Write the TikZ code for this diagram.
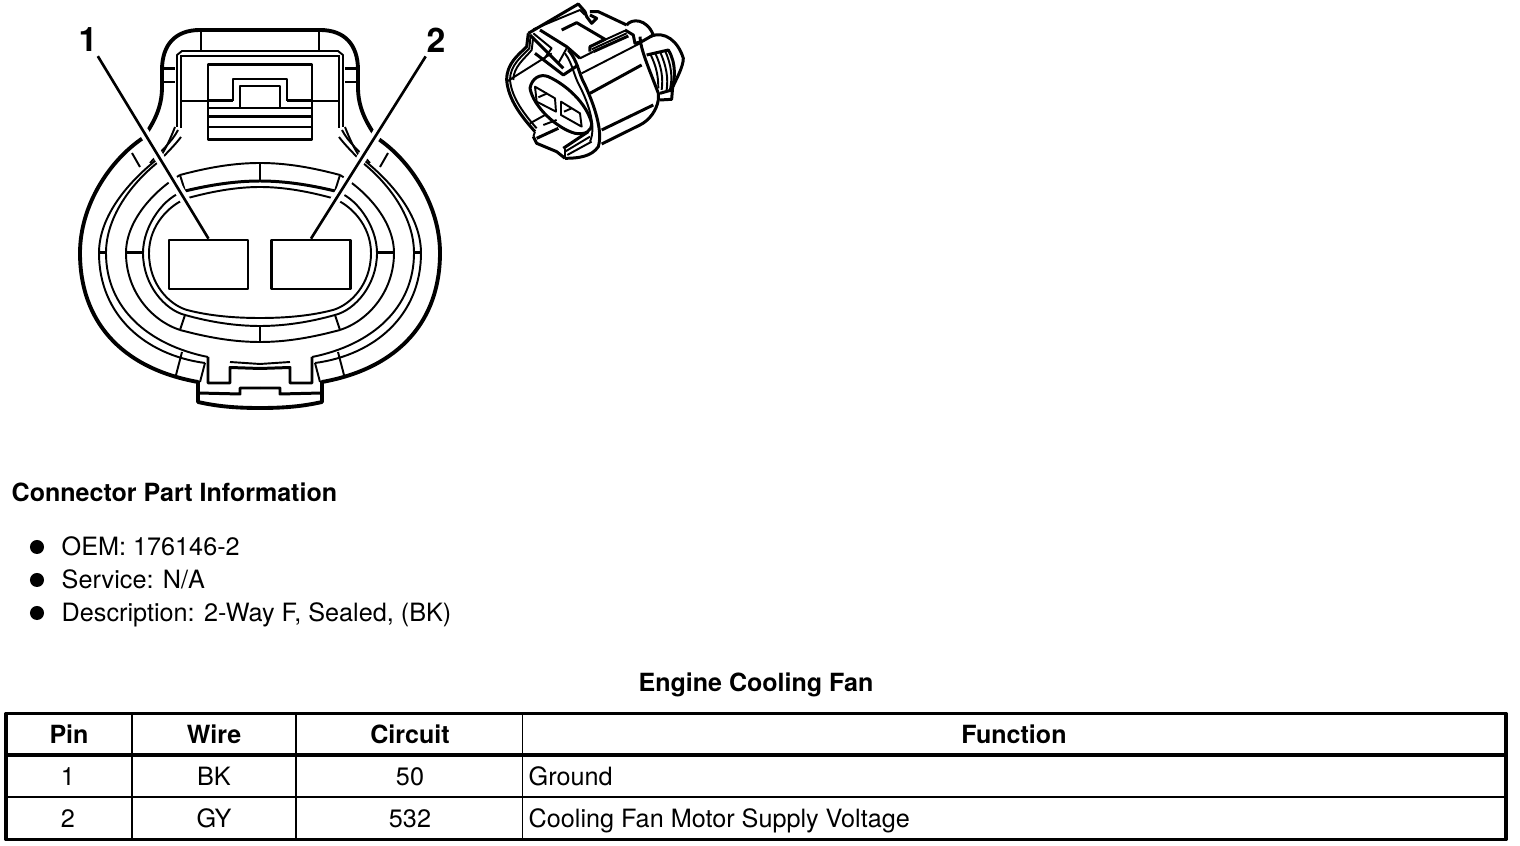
\documentclass[tikz,border=0pt]{standalone}
\usepackage{fontspec}
\setmainfont{TeX Gyre Heros}
\usetikzlibrary{positioning}
\tikzset{
  every picture/.style={line cap=butt, line join=round},
  shell/.style={line width=1.1pt, draw=black},
  heavy/.style={line width=0.85pt, draw=black},
  fine/.style={line width=0.55pt, draw=black},
  sketch/.style={line width=0.55pt, draw=black},
  sketchheavy/.style={line width=0.85pt, draw=black},
  leader/.style={line width=0.75pt, draw=black, preaction={draw=white, line width=2.8pt, shorten >=2pt}},
  pinbox/.style={draw=black, line width=0.75pt, minimum width=0.79cm, minimum height=0.49cm, inner sep=0pt},
  pinnum/.style={font=\fontsize{9.6}{11}\selectfont\bfseries, inner sep=1pt},
  heading/.style={font=\fontsize{7.12}{9}\selectfont\bfseries, inner sep=0pt, anchor=base},
  body/.style={font=\fontsize{7.17}{9}\selectfont, inner sep=0pt, anchor=base},
  bodyleft/.style={body, anchor=base west},
  dot/.style={circle, fill=black, minimum size=0.14cm, inner sep=0pt},
  rule/.style={line width=0.55pt, draw=black},
  frame/.style={line width=0.95pt, draw=black}
}
\begin{document}
\begin{tikzpicture}[x=0.01cm, y=-0.01cm]
  \useasboundingbox (0,0) rectangle (1520,846);

  % Front view, both halves mirrored about the centre line
  \foreach \s in {1,-1} {
    \begin{scope}[shift={(260,0)}, xscale=\s]
      % Outer shell
      \draw[shell] (0,30) -- (-60,30) .. controls (-85,30) and (-98,45) .. (-98,70) -- (-98,87) .. controls (-98,105) and (-104,120) .. (-117,138) .. controls (-150,160) and (-180,205) .. (-180,253) .. controls (-180,320) and (-140,368) .. (-62,382) -- (-62,402) .. controls (-40,407) and (-20,408) .. (0,408);
      \draw[heavy] (-62,393) -- (-20,394) -- (-20,388) -- (0,388);
      % Top ticks and stubs
      \draw[heavy] (-59,30) -- (-59,50);
      \draw[fine] (-97,82) -- (-85,82);
      \draw[heavy] (-97,69) -- (-85,69);
      % Latch post
      \draw[fine] (0,51) -- (-78,51) -- (-83,55) -- (-83,127);
      \draw[fine] (0,56) -- (-79,56);
      \draw[heavy] (-79,55) -- (-79,128);
      \draw[fine] (-79,100.7) -- (-52,100.7);
      % Rings
      \draw[fine] (-85,127) .. controls (-90,140) and (-95,150) .. (-100,157) .. controls (-130,180) and (-161,215) .. (-161,253) .. controls (-161,315) and (-115,355) .. (-55,363);
      \draw[fine] (-79,137) .. controls (-85,145) and (-95,155) .. (-103,163) .. controls (-130,185) and (-154,218) .. (-154,253) .. controls (-154,308) and (-112,345) .. (-52,357);
      \draw[fine] (-82,130) .. controls (-88,142) and (-100,152) .. (-110,163);
      \draw[fine] (-128,153) -- (-120,167);
      \draw[heavy] (-161,253) -- (-154,253);
      \draw[heavy] (-134,253) -- (-117,253);
      % Segment ring and inner oval
      \draw[fine] (-80,175) .. controls (-105,190) and (-134,220) .. (-134,253) .. controls (-134,290) and (-110,320) .. (-80,330);
      \draw[fine] (-80,175) .. controls (-50,167) and (-25,163) .. (0,163);
      \draw[fine] (-80,175) -- (-75,191);
      \draw[heavy] (-75,191) .. controls (-50,185) and (-25,181) .. (0,181);
      \draw[fine] (0,163) -- (0,181);
      \draw[fine] (-75,191) .. controls (-95,196) and (-117,225) .. (-117,253) .. controls (-117,285) and (-95,310) .. (-75,315) .. controls (-50,322) and (-25,326) .. (0,326);
      \draw[fine] (0,187) .. controls (-25,187) and (-50,192) .. (-72,198) .. controls (-90,204) and (-111,225) .. (-111,253) .. controls (-111,285) and (-90,305) .. (-73,310) .. controls (-50,316) and (-25,318) .. (0,318);
      \draw[fine] (-80,330) .. controls (-50,338) and (-25,342) .. (0,342);
      \draw[fine] (-80,330) -- (-75,315);
      \draw[fine] (0,326) -- (0,342);
      % Lower lock tab
      \draw[heavy] (-52,357) -- (-52,383) -- (-30,383) -- (-30,367.5) -- (0,368.5);
      \draw[fine] (-30,362) -- (0,364);
      \draw[fine] (-55,363) -- (-60,382);
      \draw[fine] (-78,352) -- (-84,375);
    \end{scope}
  }

  % Latch window
  \draw[heavy] (208,65) rectangle (312,140);
  \draw[fine] (233,100.7) -- (233,79) -- (287,79) -- (287,100.7);
  \draw[fine] (240,108) -- (240,86) -- (280,86) -- (280,108);
  \draw[heavy] (208,100.7) -- (233,100.7) (287,100.7) -- (312,100.7);
  \draw[fine] (208,108) -- (312,108);
  \draw[heavy] (208,117) -- (312,117);
  \draw[fine] (208,127) -- (312,127);

  % Pins and their numbers
  \node[pinbox] (pin1) at (208.5,264.5) {};
  \node[pinbox] (pin2) at (311,264.5) {};
  \node[pinnum] (num1) at (88,40) {1};
  \node[pinnum] (num2) at (436,40) {2};
  \draw[leader] (num1) -- (pin1.north);
  \draw[leader] (num2) -- (pin2.north);

  % Small view of the connector
  \begin{scope}[shift={(490,0)}, scale=0.3333]
    % Left rim
    \draw[sketchheavy] (115,100) -- (110,140) .. controls (85,165) and (50,190) .. (50,240) .. controls (55,300) and (95,350) .. (135,395);
    \draw[sketch] (122,105) -- (118,145) .. controls (95,170) and (60,195) .. (60,240) .. controls (65,295) and (105,345) .. (140,385);
    \draw[sketch] (130,110) -- (125,150) .. controls (105,175) and (70,200) .. (70,240);
    % Top band and notch
    \draw[sketchheavy] (115,100) -- (265,12) -- (285,35) -- (290,50) -- (305,70) -- (320,55) -- (300,45);
    \draw[sketch] (130,88) -- (270,30) -- (285,45);
    \draw[sketchheavy] (300,35) -- (325,35) -- (410,75);
    % Clip on top
    \draw[sketchheavy] (215,90) -- (260,68) -- (345,118) -- (300,140) -- (300,155);
    \draw[sketch] (300,140) -- (405,92);
    \draw[sketch] (305,148) -- (410,100);
    \draw[sketchheavy] (310,155) -- (415,108);
    \draw[sketchheavy] (405,90) -- (430,105) -- (435,130) -- (455,125);
    % Lattice behind the face
    \draw[sketchheavy] (120,105) -- (220,205);
    \draw[sketchheavy] (150,90) -- (230,140) -- (270,175);
    \draw[sketch] (130,100) -- (185,145) -- (160,180);
    \draw[sketch] (230,145) -- (205,190);
    \draw[sketchheavy] (135,160) -- (220,225) -- (265,195);
    \draw[sketch] (50,245) -- (185,160);
    \draw[sketch] (270,175) -- (310,155);
    % Face oval
    \draw[sketchheavy] (120,265) .. controls (125,235) and (150,220) .. (175,230) .. controls (230,255) and (290,310) .. (305,370) .. controls (305,395) and (285,405) .. (255,400) .. controls (200,385) and (130,320) .. (120,265) -- cycle;
    \draw[sketch] (135,260) -- (195,295) -- (198,335) -- (140,305) -- cycle;
    \draw[sketch] (145,292) -- (172,280);
    \draw[sketch] (213,305) -- (270,340) -- (275,380) -- (213,345) -- cycle;
    \draw[sketch] (222,335) -- (245,325);
    % Front band
    \draw[sketchheavy] (235,150) .. controls (265,185) and (265,220) .. (285,255) .. controls (310,310) and (340,390) .. (325,440) .. controls (305,470) and (265,475) .. (225,475);
    \draw[sketch] (225,160) .. controls (250,195) and (250,225) .. (270,260) .. controls (295,310) and (320,380) .. (300,425);
    % Lower clip
    \draw[sketchheavy] (130,410) -- (140,430) -- (200,455) -- (225,475);
    \draw[sketch] (135,395) -- (130,410) (225,475) -- (225,445);
    \draw[sketch] (120,370) -- (165,345) (160,375) -- (200,360);
    \draw[sketchheavy] (140,415) -- (205,385);
    \draw[sketchheavy] (220,445) -- (295,395);
    \draw[sketch] (225,455) -- (300,410) (232,465) -- (305,425);
    % Body lines
    \draw[sketch] (275,220) -- (450,130);
    \draw[sketchheavy] (300,280) -- (455,195);
    \draw[sketchheavy] (335,390) -- (490,315);
    % Rear of the body
    \draw[sketchheavy] (450,110) .. controls (452,150) and (475,200) .. (505,280) -- (505,300) .. controls (500,330) and (480,360) .. (450,375) -- (335,432);
    \draw[sketchheavy] (410,75) .. controls (425,55) and (470,55) .. (490,105) -- (455,125);
    \draw[sketchheavy] (480,110) .. controls (525,90) and (565,125) .. (580,175) .. controls (580,200) and (560,235) .. (548,262) -- (545,298) -- (510,300);
    % Ribs
    \draw[sketchheavy] (470,165) -- (535,150) .. controls (560,190) and (555,240) .. (545,270) -- (510,280);
    \draw[sketch] (480,160) .. controls (500,200) and (505,230) .. (505,265);
    \draw[sketch] (495,158) .. controls (515,200) and (520,235) .. (515,270);
    \draw[sketch] (510,155) .. controls (530,200) and (535,235) .. (530,270);
    \draw[sketch] (525,152) .. controls (545,195) and (548,235) .. (540,268);
  \end{scope}

  % Part information
  \node[heading, anchor=base west] (parthead) at (11,501.5) {Connector Part Information};
  \node[dot] (dot1) at (37,547) {};
  \node[dot] (dot2) at (37,580) {};
  \node[dot] (dot3) at (37,613) {};
  \node[bodyleft] (oem) at (61,556) {OEM: 176146-2};
  \node[bodyleft] (service) at (61,589) {Service: N/A};
  \node[bodyleft] (descr) at (61,622) {Description: 2-Way F, Sealed, (BK)};

  % Table
  \node[heading] (title) at (756,691.5) {Engine Cooling Fan};
  \draw[frame] (6,713.5) rectangle (1506,839.5);
  \draw[frame] (6,755) -- (1506,755);
  \draw[rule] (6,797) -- (1506,797);
  \draw[rule] (132,713.5) -- (132,839.5);
  \draw[rule] (296,713.5) -- (296,839.5);
  \draw[rule] (522.5,713.5) -- (522.5,839.5);
  \node[heading] (hpin) at (69,744) {Pin};
  \node[heading] (hwire) at (214,744) {Wire};
  \node[heading] (hcircuit) at (410,744) {Circuit};
  \node[heading] (hfunc) at (1014,744) {Function};
  \node[body] (p1) at (68,786) {1};
  \node[body] (w1) at (214,786) {BK};
  \node[body] (c1) at (410,786) {50};
  \node[bodyleft] (f1) at (528,786) {Ground};
  \node[body] (p2) at (68,828) {2};
  \node[body] (w2) at (214,828) {GY};
  \node[body] (c2) at (410,828) {532};
  \node[bodyleft] (f2) at (528,828) {Cooling Fan Motor Supply Voltage};
\end{tikzpicture}
\end{document}
